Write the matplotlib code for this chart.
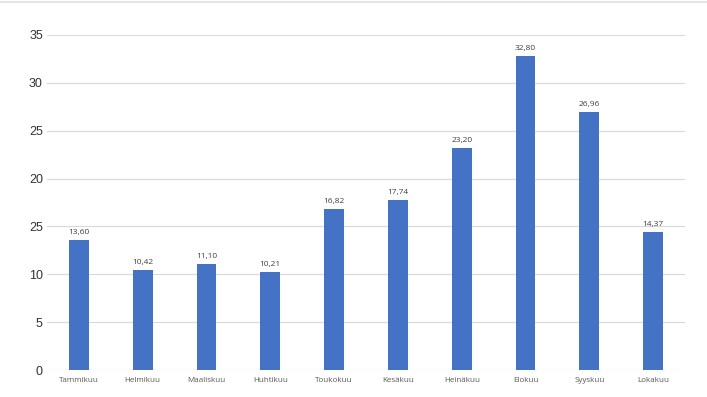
import matplotlib
matplotlib.use("Agg")
import matplotlib.pyplot as plt
from matplotlib.lines import Line2D

months = ["Tammikuu", "Helmikuu", "Maaliskuu", "Huhtikuu", "Toukokuu",
          "Kesäkuu", "Heinäkuu", "Elokuu", "Syyskuu", "Lokakuu"]
values = [13.60, 10.42, 11.10, 10.21, 16.82, 17.74, 23.20, 32.80, 26.96, 14.37]
value_labels = ["13,60", "10,42", "11,10", "10,21", "16,82",
                "17,74", "23,20", "32,80", "26,96", "14,37"]
y_ticks = [0, 5, 10, 15, 20, 25, 30, 35]
y_tick_labels = ["0", "5", "10", "25", "20", "25", "30", "35"]

fig = plt.figure(figsize=(7.07, 3.97), dpi=100)
ax = fig.add_axes([0.0665, 0.068, 0.9025, 0.844])

x = list(range(len(months)))
ax.bar(x, values, width=0.31, color="#4472C4", zorder=3)

ax.set_xlim(-0.5, len(months) - 0.5)
ax.set_ylim(0, 35)
ax.set_yticks(y_ticks)
ax.set_yticklabels(y_tick_labels, fontsize=9, color="#333333",
                   family=["Liberation Sans", "DejaVu Sans"])
ax.set_xticks(x)
ax.set_xticklabels(months, fontsize=5.8, color="#595959",
                   family=["Open Sans", "DejaVu Sans"])
ax.tick_params(axis="y", length=0, pad=3)
ax.tick_params(axis="x", length=0, pad=5)
ax.grid(axis="y", color="#d9d9d9", linewidth=0.8, zorder=0)
for s in ax.spines.values():
    s.set_visible(False)

for xi, v, lab in zip(x, values, value_labels):
    ax.annotate(lab, (xi, v), xytext=(0, 3), textcoords="offset points",
                ha="center", va="bottom", fontsize=6, color="#404040",
                family=["Open Sans", "DejaVu Sans"])

fig.add_artist(Line2D([0, 1], [0.996, 0.996], transform=fig.transFigure,
                      color="#e0e0e0", linewidth=1.2))

fig.savefig("out.png", dpi=100, facecolor="white")
